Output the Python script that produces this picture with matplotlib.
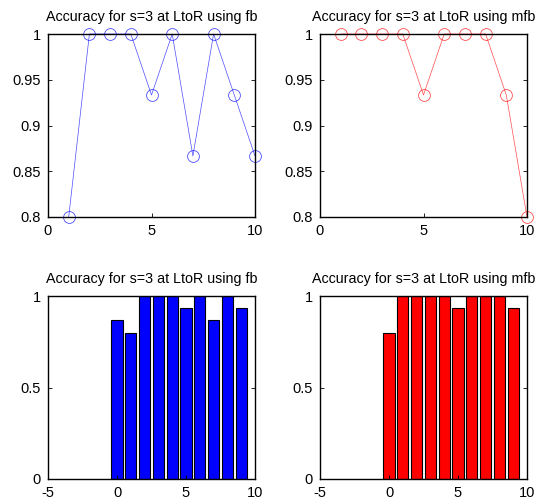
import numpy as np
import matplotlib
matplotlib.use("Agg")
import matplotlib.pyplot as plt

# ---------------------------------------------------------------------------
# Data
# ---------------------------------------------------------------------------
RUNS = [1, 2, 3, 4, 5, 6, 7, 8, 9, 10]
ACC_FB = [0.8, 1.0, 1.0, 1.0, 0.9333, 1.0, 0.8667, 1.0, 0.9333, 0.8667]
ACC_MFB = [1.0, 1.0, 1.0, 1.0, 0.9333, 1.0, 1.0, 1.0, 0.9333, 0.8]

BAR_POS = [0, 1, 2, 3, 4, 5, 6, 7, 8, 9]
BAR_FB = [0.8667, 0.8, 1.0, 1.0, 1.0, 0.9333, 1.0, 0.8667, 1.0, 0.9333]
BAR_MFB = [0.8, 1.0, 1.0, 1.0, 1.0, 0.9333, 1.0, 1.0, 1.0, 0.9333]

TITLE_FB = "Accuracy for s=3 at LtoR using fb"
TITLE_MFB = "Accuracy for s=3 at LtoR using mfb"

plt.rcParams["font.family"] = ["Liberation Sans", "DejaVu Sans"]
plt.rcParams["axes.unicode_minus"] = False

W, H = 539, 504
fig = plt.figure(figsize=(W / 100, H / 100), dpi=100)


def px_axes(x0, y0, x1, y1):
    return fig.add_axes([x0 / W, 1 - y1 / H, (x1 - x0) / W, (y1 - y0) / H])


def matlab_style(ax):
    for s in ax.spines.values():
        s.set_linewidth(1.0)
        s.set_color("black")
    ax.tick_params(direction="in", length=3, width=0.6, labelsize=10.5,
                   top=False, right=True, pad=5)


ax_tl = px_axes(48, 34, 255, 217)
ax_tr = px_axes(320, 34, 527, 217)
ax_bl = px_axes(48, 296, 255, 479)
ax_br = px_axes(320, 296, 527, 479)

for ax, vals, col, title in [(ax_tl, ACC_FB, "#0000ff", TITLE_FB),
                             (ax_tr, ACC_MFB, "#ff0000", TITLE_MFB)]:
    ax.plot(RUNS, vals, color=col, linewidth=0.5, alpha=0.7, marker="o",
            markersize=8.5, markerfacecolor="none", markeredgewidth=0.6,
            clip_on=False)
    ax.set_xlim(0, 10)
    ax.set_ylim(0.8, 1.0)
    ax.set_xticks([0, 5, 10])
    ax.set_yticks([0.8, 0.85, 0.9, 0.95, 1.0])
    ax.set_yticklabels(["0.8", "0.85", "0.9", "0.95", "1"])
    ax.set_title(title, fontsize=10.3, pad=9)
    matlab_style(ax)

for ax, vals, col, title in [(ax_bl, BAR_FB, "#0000ff", TITLE_FB),
                             (ax_br, BAR_MFB, "#ff0000", TITLE_MFB)]:
    ax.bar(BAR_POS, vals, width=0.8, color=col, edgecolor="black",
           linewidth=0.8)
    ax.set_xlim(-5, 10)
    ax.set_ylim(0, 1)
    ax.set_xticks([-5, 0, 5, 10])
    ax.set_yticks([0, 0.5, 1])
    ax.set_yticklabels(["0", "0.5", "1"])
    ax.set_title(title, fontsize=10.3, pad=9)
    matlab_style(ax)

fig.savefig("out.png", dpi=100)
